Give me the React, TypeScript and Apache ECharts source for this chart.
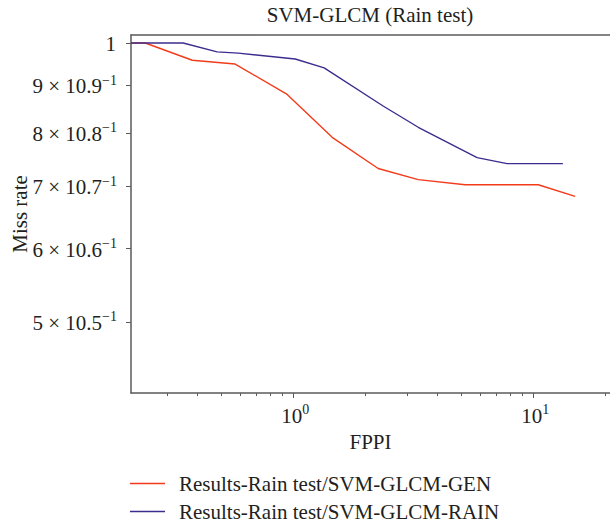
import React, { useEffect, useRef } from "react";
import * as echarts from "echarts";

const FONT = "'Liberation Serif', 'Times New Roman', serif";
const TXT = "#231f20";
const AX = "#5a5a5a";

const titleText = "SVM-GLCM (Rain test)";
const seriesNames = ["Results-Rain test/SVM-GLCM-GEN", "Results-Rain test/SVM-GLCM-RAIN"];
const seriesColors = ["#f23b1a", "#3b2d8e"];

const xGen = [0.211, 0.242, 0.38, 0.573, 0.944, 1.454, 2.26, 3.32, 5.21, 10.5, 14.96];
const yGen = [1, 1, 0.958, 0.949, 0.88, 0.791, 0.732, 0.712, 0.703, 0.703, 0.683];
const xRain = [0.211, 0.348, 0.482, 0.59, 1.02, 1.346, 2.37, 3.32, 5.84, 7.79, 13.3];
const yRain = [1, 1, 0.978, 0.975, 0.961, 0.94, 0.855, 0.811, 0.752, 0.741, 0.741];

const xMajorTicks = [1, 10];
const xMinorTicks = [0.3, 0.4, 0.5, 0.6, 0.7, 0.8, 0.9, 2, 3, 4, 5, 6, 7, 8, 9, 20];
const yTicks = [0.5, 0.6, 0.7, 0.8, 0.9, 1];

const X_MIN = 0.211;
const X_MAX = 20.9;
const Y_MIN = 0.419;
const Y_MAX = 1.02;

function txt(x: number, y: number, text: string, size: number, align: string) {
  return {
    type: "text",
    x,
    y,
    style: { text, fontFamily: FONT, fontSize: size, fill: TXT, align, verticalAlign: "middle" },
  };
}

export default function App() {
  const ref = useRef<HTMLDivElement>(null);
  useEffect(() => {
    if (!ref.current) return;
    const chart = echarts.init(ref.current, null, { renderer: "svg" });
    const baseX = {
      type: "log",
      gridIndex: 0,
      min: X_MIN,
      max: X_MAX,
      logBase: 10,
    };
    const legendText = { fontFamily: FONT, fontSize: 21, color: TXT, lineHeight: 18, padding: [0, 0, 0, 9] };
    chart.setOption({
      animation: false,
      grid: { left: 131, top: 35, right: 0, bottom: 128, containLabel: false, outerBoundsMode: "none" },
      xAxis: [
        {
          ...baseX,
          position: "bottom",
          name: "FPPI",
          nameLocation: "middle",
          nameGap: 38,
          nameTextStyle: { fontFamily: FONT, fontSize: 21, color: TXT },
          axisLine: { show: true, onZero: false, lineStyle: { color: AX, width: 1.5 } },
          axisTick: { show: true, inside: false, length: 5, customValues: xMajorTicks, lineStyle: { color: AX, width: 1 } },
          axisLabel: { show: false },
          splitLine: { show: false },
          minorTick: { show: false },
        },
        {
          ...baseX,
          position: "bottom",
          axisLine: { show: false, onZero: false },
          axisTick: { show: true, inside: false, length: 3, customValues: xMinorTicks, lineStyle: { color: AX, width: 1 } },
          axisLabel: { show: false },
          splitLine: { show: false },
        },
        {
          ...baseX,
          position: "top",
          axisLine: { show: true, onZero: false, lineStyle: { color: AX, width: 1.5 } },
          axisTick: { show: false },
          axisLabel: { show: false },
          splitLine: { show: false },
        },
      ],
      yAxis: [
        {
          type: "log",
          logBase: 10,
          min: Y_MIN,
          max: Y_MAX,
          name: "Miss rate",
          nameLocation: "middle",
          nameRotate: 90,
          nameGap: 101,
          nameTextStyle: { fontFamily: FONT, fontSize: 21, color: TXT },
          axisLine: { show: true, onZero: false, lineStyle: { color: AX, width: 1.5 } },
          axisTick: { show: true, inside: false, length: 5, customValues: yTicks, lineStyle: { color: AX, width: 1 } },
          axisLabel: { show: false },
          splitLine: { show: false },
        },
      ],
      legend: [
        {
          orient: "vertical",
          left: 130,
          top: 473,
          padding: 0,
          itemWidth: 35,
          itemHeight: 1.5,
          icon: "rect",
          data: [seriesNames[0]],
          textStyle: legendText,
        },
        {
          orient: "vertical",
          left: 130,
          top: 501,
          padding: 0,
          itemWidth: 35,
          itemHeight: 1.5,
          icon: "rect",
          data: [seriesNames[1]],
          textStyle: legendText,
        },
      ],
      series: [
        {
          name: seriesNames[0],
          type: "line",
          xAxisIndex: 0,
          yAxisIndex: 0,
          symbol: "none",
          color: seriesColors[0],
          lineStyle: { width: 1.4, color: seriesColors[0] },
          data: xGen.map((x, i) => [x, yGen[i]]),
        },
        {
          name: seriesNames[1],
          type: "line",
          xAxisIndex: 0,
          yAxisIndex: 0,
          symbol: "none",
          color: seriesColors[1],
          lineStyle: { width: 1.4, color: seriesColors[1] },
          data: xRain.map((x, i) => [x, yRain[i]]),
        },
      ],
    });

    const axisLeft = chart.convertToPixel({ xAxisIndex: 0 }, X_MIN) as number;
    const axisBottom = chart.convertToPixel({ yAxisIndex: 0 }, Y_MIN) as number;
    const labels: any[] = [txt(370, 15, titleText, 21, "center")];
    yTicks.forEach((v) => {
      const py = chart.convertToPixel({ yAxisIndex: 0 }, v) as number;
      const d = Math.round(v * 10);
      if (d >= 10) {
        labels.push(txt(axisLeft - 15, py + 1, "1", 21, "right"));
      } else {
        labels.push(txt(axisLeft - 29, py + 1, d + " \u00d7 10." + d, 21, "right"));
        labels.push(txt(axisLeft - 29, py - 5, "\u22121", 14, "left"));
      }
    });
    xMajorTicks.forEach((v) => {
      const px = chart.convertToPixel({ xAxisIndex: 0 }, v) as number;
      labels.push(txt(px + 9, axisBottom + 23, "10", 21, "right"));
      labels.push(txt(px + 9, axisBottom + 16, String(Math.round(Math.log10(v))), 14, "left"));
    });
    chart.setOption({ graphic: labels });
    return () => chart.dispose();
  }, []);
  return (
    <div
      ref={ref}
      style={{ position: "fixed", left: 0, top: 0, width: 610, height: 521, background: "#fff" }}
    />
  );
}
